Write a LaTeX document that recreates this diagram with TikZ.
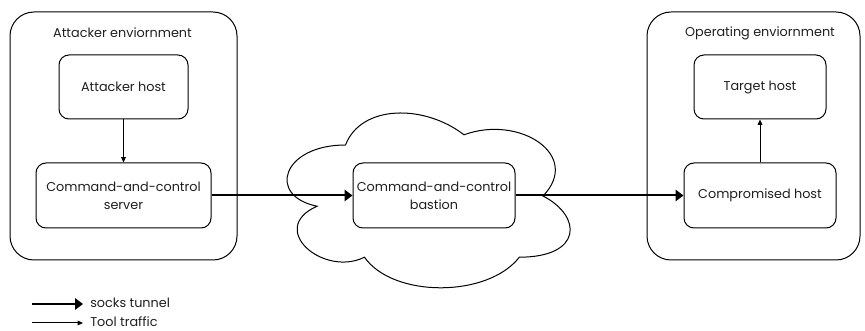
\documentclass[tikz,border=0pt]{standalone}
\usepackage{fontspec}
\setmainfont{Poppins}
\usetikzlibrary{arrows.meta}
\begin{document}
\begin{tikzpicture}[x=0.75pt, y=-0.75pt,
  every node/.style={font=\fontsize{9.6}{13.5}\selectfont, text=black!88},
  envbox/.style={draw, rounded corners=18pt, line width=0.75pt, inner sep=0pt},
  hostbox/.style={draw, fill=white, rounded corners=7.5pt, line width=0.75pt,
    align=center, inner sep=0pt},
  tunnel/.style={line width=1.5pt, -{Triangle[length=6pt, width=8.5pt]}},
  tool/.style={line width=0.75pt, -{Triangle[length=4pt, width=3.5pt]}}]
\useasboundingbox (0,0) rectangle (865,331);

% environments
\node[envbox, minimum width=170.25pt, minimum height=186pt] (attenv) at (123.5,136) {};
\node (atttitle) at (122.5,33) {Attacker enviornment};
\node[envbox, minimum width=159.75pt, minimum height=186pt] (openv) at (753.5,136) {};
\node (optitle) at (760,33) {Operating enviornment};

% cloud around the bastion
\draw[line width=0.75pt]
  (345.5,145) .. controls (282.3,145) and (266.5,196) .. (317.06,206.2)
  .. controls (266.5,228.64) and (323.38,277.6) .. (364.46,257.2)
  .. controls (392.9,298) and (487.7,298) .. (519.3,257.2)
  .. controls (582.5,257.2) and (582.5,216.4) .. (543,196)
  .. controls (582.5,155.2) and (519.3,114.4) .. (464,134.8)
  .. controls (424.5,104.2) and (361.3,104.2) .. (345.5,145) -- cycle;

% hosts
\node[hostbox, minimum width=96.75pt, minimum height=48pt] (atthost) at (123.5,87) {Attacker host};
\node[hostbox, minimum width=131.25pt, minimum height=48.75pt] (c2srv) at (123.5,195.5) {Command-and-control\\server};
\node[hostbox, minimum width=121.5pt, minimum height=48.75pt] (bastion) at (434,195.5) {Command-and-control\\bastion};
\node[hostbox, minimum width=99pt, minimum height=48pt] (target) at (760,87) {Target host};
\node[hostbox, minimum width=114pt, minimum height=48.75pt] (comp) at (760,195.5) {Compromised host};

% connections
\draw[tool] (atthost) -- (c2srv);
\draw[tunnel] (c2srv) -- (bastion);
\draw[tunnel] (bastion) -- (comp);
\draw[tool] (comp) -- (target);

% legend
\coordinate (lg1a) at (32,304);
\coordinate (lg1b) at (83,304);
\coordinate (lg2a) at (32,323);
\coordinate (lg2b) at (83,323);
\draw[tunnel] (lg1a) -- (lg1b);
\draw[tool] (lg2a) -- (lg2b);
\node[anchor=base west, inner sep=0pt] (lgtunnel) at (90,308) {socks tunnel};
\node[anchor=base west, inner sep=0pt] (lgtool) at (90,326.5) {Tool traffic};
\end{tikzpicture}
\end{document}
